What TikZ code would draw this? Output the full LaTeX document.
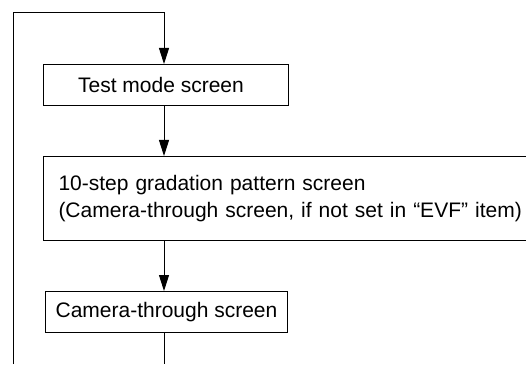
\documentclass[tikz,border=0pt]{standalone}
\usepackage{fontspec}
\setmainfont{Liberation Sans}
\usetikzlibrary{arrows.meta}
\begin{document}
\begin{tikzpicture}[x=1pt,y=1pt,
  every node/.style={font=\fontsize{21pt}{27pt}\selectfont},
  box/.style={draw,line width=1pt,inner sep=0pt},
  conn/.style={line width=1pt},
  arr/.style={conn,-{Triangle[length=16pt,width=10pt]}}]
\useasboundingbox (0,0) rectangle (526,364);
\clip (0,0) rectangle (526,364);
\node[box,minimum width=245pt,minimum height=41pt,anchor=north west] (b1) at (43,300) {Test mode screen\hspace*{10pt}};
\node[box,anchor=north west,minimum height=84pt,text width=470pt,inner xsep=15pt,align=left] (b2) at (43,208)
  {10-step gradation pattern screen\\(Camera-through screen, if not set in “EVF” item)};
\node[box,minimum width=242pt,minimum height=41pt,anchor=north west] (b3) at (45,73) {Camera-through screen};
\coordinate (colx) at (164,0);
\coordinate (bot) at (164,0);
\coordinate (lb) at (13,0);
\coordinate (lt) at (13,351);
\coordinate (top) at (164,351);
\draw[conn] (b3.south -| colx) -- (bot);
\draw[arr] (lb) -- (lt) -- (top) -- (b1.north -| colx);
\draw[arr] (b1.south -| colx) -- (b2.north -| colx);
\draw[arr] (b2.south -| colx) -- (b3.north -| colx);
\end{tikzpicture}
\end{document}
